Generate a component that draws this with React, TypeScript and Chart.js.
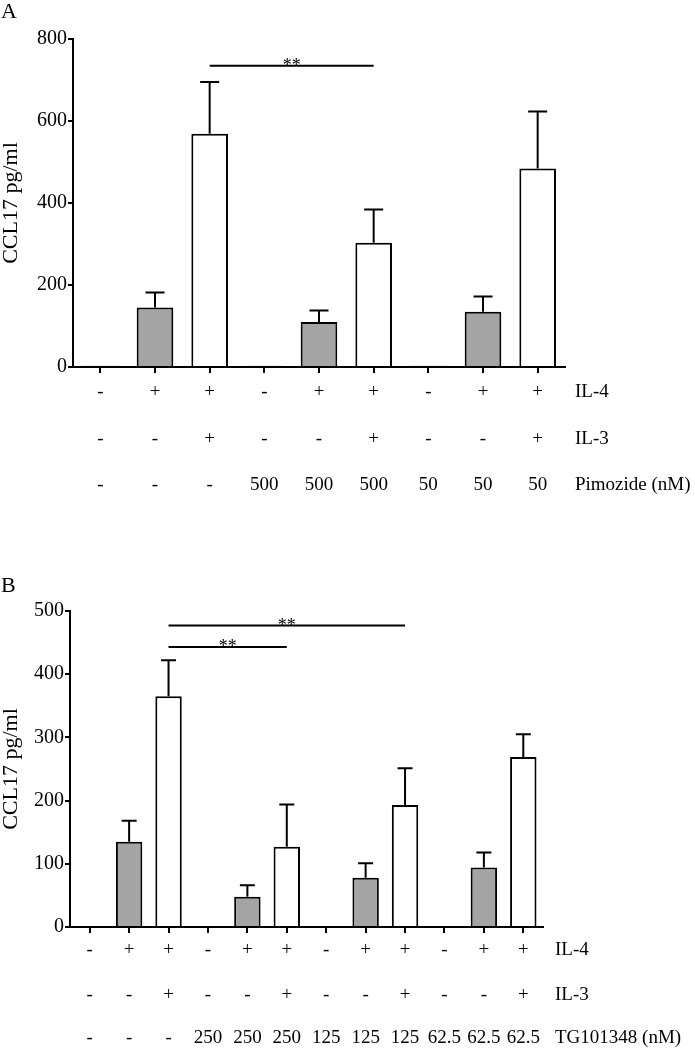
import React, { useEffect, useRef, useState } from 'react';
import { Chart, registerables } from 'chart.js';

Chart.register(...registerables);

const SERIF = "'Liberation Serif', 'Times New Roman', serif";

// ---------- Panel A data ----------
const categoriesA = ['1', '2', '3', '4', '5', '6', '7', '8', '9'];
const il4A = ['-', '+', '+', '-', '+', '+', '-', '+', '+'];
const il3A = ['-', '-', '+', '-', '-', '+', '-', '-', '+'];
const pimozideA = ['-', '-', '-', '500', '500', '500', '50', '50', '50'];
const meanA = [3, 145, 569, 3, 110, 303, 3, 135, 484];
const semA = [0, 37, 126, 0, 28, 81, 0, 37, 139];
const sigA: [number, number, number][] = [[2, 5, 735]];
const yTicksA = [0, 200, 400, 600, 800];

// ---------- Panel B data ----------
const categoriesB = ['1', '2', '3', '4', '5', '6', '7', '8', '9', '10', '11', '12'];
const il4B = ['-', '+', '+', '-', '+', '+', '-', '+', '+', '-', '+', '+'];
const il3B = ['-', '-', '+', '-', '-', '+', '-', '-', '+', '-', '-', '+'];
const tgB = ['-', '-', '-', '250', '250', '250', '125', '125', '125', '62.5', '62.5', '62.5'];
const meanB = [0, 135, 365, 0, 48, 127, 0, 78, 193, 0, 94, 269];
const semB = [0, 33, 57, 0, 18, 67, 0, 23, 58, 0, 24, 36];
const sigB: [number, number, number][] = [[2, 5, 443], [2, 8, 477]];
const yTicksB = [0, 100, 200, 300, 400, 500];

const GRAY = '#a4a4a4';

type PanelCfg = {
  letter: string;
  letterY: number;
  categories: string[];
  il4: string[];
  il3: string[];
  drug: string[];
  drugName: string;
  means: number[];
  errs: number[];
  sig: [number, number, number][];
  yTicks: number[];
  width: number;
  height: number;
  padTop: number;
  padRight: number;
  yWidth: number;
  xHeight: number;
  rowY: number[];
  rowLabelX: number;
  cap: number;
};

function overlayPlugin(p: PanelCfg) {
  return {
    id: 'overlay',
    afterDatasetsDraw(chart: any) {
      const ctx = chart.ctx as CanvasRenderingContext2D;
      const xs = chart.scales.x;
      const ys = chart.scales.y;
      ctx.save();
      ctx.strokeStyle = '#000';
      ctx.lineWidth = 2;
      // error bars
      p.means.forEach((m, i) => {
        const e = p.errs[i];
        if (!e) return;
        const cx = xs.getPixelForValue(i);
        const y0 = ys.getPixelForValue(m);
        const y1 = ys.getPixelForValue(m + e);
        ctx.beginPath();
        ctx.moveTo(cx, y0);
        ctx.lineTo(cx, y1);
        ctx.moveTo(cx - p.cap / 2, y1);
        ctx.lineTo(cx + p.cap / 2, y1);
        ctx.stroke();
      });
      // significance bars
      p.sig.forEach(([a, b, v]) => {
        const xa = xs.getPixelForValue(a);
        const xb = xs.getPixelForValue(b);
        const yy = ys.getPixelForValue(v);
        ctx.beginPath();
        ctx.moveTo(xa, yy);
        ctx.lineTo(xb, yy);
        ctx.stroke();
        ctx.fillStyle = '#000';
        ctx.font = `18px ${SERIF}`;
        ctx.textAlign = 'center';
        ctx.textBaseline = 'alphabetic';
        ctx.fillText('**', (xa + xb) / 2, yy + 5);
      });
      // condition rows
      const rows: [string[], string][] = [
        [p.il4, 'IL-4'],
        [p.il3, 'IL-3'],
        [p.drug, p.drugName],
      ];
      ctx.fillStyle = '#000';
      ctx.font = `19px ${SERIF}`;
      ctx.textBaseline = 'middle';
      rows.forEach(([vals, name], r) => {
        const ry = p.rowY[r];
        ctx.textAlign = 'center';
        vals.forEach((v, i) => ctx.fillText(v, xs.getPixelForValue(i), ry));
        ctx.textAlign = 'left';
        ctx.fillText(name, p.rowLabelX, ry);
      });
      // panel letter
      ctx.font = `22px ${SERIF}`;
      ctx.textAlign = 'left';
      ctx.textBaseline = 'alphabetic';
      ctx.fillText(p.letter, 1, p.letterY);
      ctx.restore();
    },
  };
}

function BarPanel({ cfg, top, ready }: { cfg: PanelCfg; top: number; ready: boolean }) {
  const ref = useRef<HTMLCanvasElement | null>(null);
  useEffect(() => {
    if (!ref.current || !ready) return;
    // gray = IL-4 only, white = IL-4 + IL-3, black sliver = unstimulated
    const colors = cfg.il3.map((v, i) => (v === '+' ? '#ffffff' : cfg.il4[i] === '+' ? GRAY : '#000000'));
    const chart = new Chart(ref.current, {
      type: 'bar',
      data: {
        labels: cfg.categories,
        datasets: [
          {
            data: cfg.means,
            backgroundColor: colors,
            borderColor: '#000',
            borderWidth: 2,
            borderSkipped: 'start',
            barPercentage: 0.67,
            categoryPercentage: 1,
          },
        ],
      },
      options: {
        responsive: false,
        animation: false,
        devicePixelRatio: 1,
        layout: { padding: { top: cfg.padTop, right: cfg.padRight, left: 0, bottom: 0 } },
        plugins: { legend: { display: false }, tooltip: { enabled: false }, title: { display: false } },
        scales: {
          x: {
            type: 'category',
            offset: true,
            grid: { display: true, offset: false, drawOnChartArea: false, drawTicks: true, tickLength: 6, color: '#000', lineWidth: 2 },
            border: { display: true, color: '#000', width: 2 },
            ticks: { display: false },
            afterFit: (s: any) => {
              s.height = cfg.xHeight;
            },
          },
          y: {
            min: 0,
            max: cfg.yTicks[cfg.yTicks.length - 1],
            afterBuildTicks: (s: any) => {
              s.ticks = cfg.yTicks.map((v) => ({ value: v }));
            },
            grid: { display: true, drawOnChartArea: false, drawTicks: true, tickLength: 5, color: '#000', lineWidth: 2 },
            border: { display: true, color: '#000', width: 2 },
            ticks: { color: '#000', padding: 1, font: { family: SERIF, size: 20 } },
            title: {
              display: true,
              text: 'CCL17 pg/ml',
              color: '#000',
              padding: 0,
              font: { family: SERIF, size: 22, lineHeight: 1.0 },
            },
            afterFit: (s: any) => {
              s.width = cfg.yWidth;
            },
          },
        },
      },
      plugins: [overlayPlugin(cfg)],
    } as any);
    return () => chart.destroy();
  }, [cfg, ready]);
  return (
    <canvas
      ref={ref}
      width={cfg.width}
      height={cfg.height}
      style={{ position: 'absolute', left: 0, top, width: cfg.width, height: cfg.height, display: 'block' }}
    />
  );
}

const cfgA: PanelCfg = {
  letter: 'A',
  letterY: 18,
  categories: categoriesA,
  il4: il4A,
  il3: il3A,
  drug: pimozideA,
  drugName: 'Pimozide (nM)',
  means: meanA,
  errs: semA,
  sig: sigA,
  yTicks: yTicksA,
  width: 695,
  height: 540,
  padTop: 39,
  padRight: 130,
  yWidth: 73,
  xHeight: 173,
  rowY: [392, 439, 485],
  rowLabelX: 575,
  cap: 19,
};

const cfgB: PanelCfg = {
  letter: 'B',
  letterY: 52,
  categories: categoriesB,
  il4: il4B,
  il3: il3B,
  drug: tgB,
  drugName: 'TG101348 (nM)',
  means: meanB,
  errs: semB,
  sig: sigB,
  yTicks: yTicksB,
  width: 695,
  height: 509,
  padTop: 71,
  padRight: 152,
  yWidth: 70,
  xHeight: 122,
  rowY: [410, 455, 498],
  rowLabelX: 555,
  cap: 15,
};

export default function App() {
  const [ready, setReady] = useState(false);
  useEffect(() => {
    let done = false;
    const finish = () => {
      if (!done) {
        done = true;
        setReady(true);
      }
    };
    const fonts = (document as any).fonts;
    if (fonts && fonts.load) {
      Promise.all([
        fonts.load("20px 'Liberation Serif'"),
        fonts.load("22px 'Liberation Serif'"),
      ])
        .then(finish, finish);
      setTimeout(finish, 800);
    } else {
      finish();
    }
  }, []);
  return (
    <div style={{ position: 'absolute', left: 0, top: 0, width: 695, height: 1049, background: '#fff', overflow: 'hidden' }}>
      <span style={{ position: 'absolute', left: -1000, top: -1000, fontFamily: SERIF }}>CCL17 pg/ml 0123456789</span>
      <BarPanel cfg={cfgA} top={0} ready={ready} />
      <BarPanel cfg={cfgB} top={540} ready={ready} />
    </div>
  );
}
